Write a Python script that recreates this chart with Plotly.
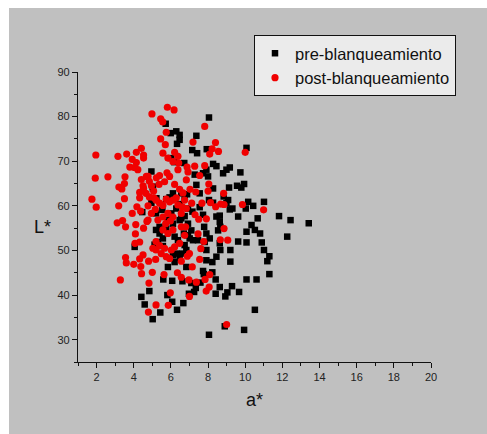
import plotly.graph_objects as go

# pre-blanqueamiento (a*, L*)
pre_a = [8.05, 5.72, 5.99, 6.29, 6.47, 6.47, 6.33, 7.37, 7.15, 7.41, 7.93, 6.02, 6.18, 6.72,
         10.07, 8.27, 8.45, 8.81, 8.99, 9.17, 9.74, 7.28, 7.73, 7.91, 8.0, 9.56, 9.79, 9.94,
         9.13, 8.27, 7.37, 7.55, 6.87, 6.56, 6.11, 5.75, 5.03, 4.95, 5.22, 4.95, 4.46, 4.05,
         4.41, 4.59, 4.84, 5.02, 5.43, 6.07, 6.33, 6.67, 5.81, 5.59, 6.07, 6.62, 6.97, 7.1,
         7.34, 7.25, 7.59, 7.77, 7.73, 8.23, 8.41, 8.63, 8.41, 8.93, 9.04, 9.29, 9.67, 10.07,
         10.61, 10.52, 9.94, 8.9, 8.05, 11.3, 11.19, 11.3, 11.01, 10.89, 10.8, 10.52, 10.34,
         10.07, 10.07, 9.62, 9.62, 10.67, 10.43, 10.16, 10.03, 11.01, 11.82, 12.44, 12.26,
         13.42, 9.2, 9.2, 9.31, 8.99, 8.84, 9.08, 9.17, 8.63, 8.45, 8.63, 8.66, 8.54, 8.63,
         8.66, 8.45, 8.23, 7.91, 8.09, 7.91, 7.82, 7.91, 7.79, 7.73, 7.55, 8.05, 8.27, 7.16,
         6.92, 6.74, 6.56, 6.92, 7.1, 6.92, 7.01, 7.19, 7.46, 6.74, 6.83, 6.61, 6.47, 6.2,
         5.84, 6.83, 6.29, 6.11, 5.57, 5.39, 5.2, 5.39, 5.75, 5.84, 6.11, 6.02, 6.29, 6.47,
         5.54, 5.2, 6.2, 6.38, 6.7, 5.57, 5.3, 5.12, 6.47, 6.74, 5.93, 5.03]
pre_L = [79.8, 78.4, 76.3, 76.7, 75.9, 74.8, 73.9, 75.7, 72.5, 71.8, 72.7, 70.7, 69.8, 69.6,
         73.0, 69.4, 68.9, 67.3, 68.1, 68.6, 67.5, 67.0, 67.3, 68.1, 66.6, 64.5, 64.1, 64.9,
         64.1, 63.9, 64.7, 62.8, 62.6, 62.8, 62.8, 61.5, 64.3, 67.7, 61.7, 60.7, 58.6, 50.8,
         39.6, 37.9, 40.9, 34.6, 36.1, 38.5, 36.7, 38.2, 40.0, 43.5, 43.2, 43.1, 40.3, 42.7,
         41.6, 40.7, 42.8, 44.7, 45.4, 45.1, 43.5, 41.8, 40.3, 39.7, 40.6, 42.0, 40.7, 43.5,
         43.5, 36.7, 32.2, 33.0, 31.1, 44.7, 47.6, 48.7, 50.1, 51.8, 53.8, 54.6, 55.7,
         54.2, 51.8, 52.0, 57.6, 57.2, 60.0, 60.9, 59.4, 60.9, 57.7, 56.8, 53.1,
         56.1, 50.1, 47.5, 59.4, 60.6, 62.1, 61.3, 59.2, 57.8, 57.6, 56.4, 55.3, 54.5, 51.6,
         50.1, 48.6, 47.4, 47.8, 52.7, 53.8, 51.9, 50.1, 55.3, 58.0, 59.7, 61.3, 60.7, 58.7,
         59.4, 57.7, 57.2, 56.0, 54.5, 53.4, 52.7, 52.3, 52.3, 51.2, 50.1, 49.3, 48.2, 47.4,
         46.3, 46.3, 49.3, 48.9, 52.7, 53.8, 54.6, 55.3, 54.9, 56.8, 56.0, 58.3, 59.4, 56.8,
         59.1, 58.3, 53.1, 52.3, 53.8, 51.0, 51.9, 51.3, 60.4, 61.9, 61.9, 63.9]

# post-blanqueamiento (a*, L*)
post_a = [1.96, 1.93, 2.61, 1.75, 1.98, 3.15, 3.62, 3.2, 3.36, 3.53, 3.5, 3.5, 3.19, 3.11,
          3.4, 3.56, 3.56, 3.6, 3.28, 4.0, 4.38, 4.42, 4.82, 4.79, 4.98, 5.2, 5.0, 5.81, 6.17,
          5.45, 5.56, 5.75, 5.45, 5.7, 4.41, 4.14, 4.53, 4.53, 3.92, 4.14, 3.79, 4.04, 4.22,
          5.57, 6.2, 6.38, 6.42, 7.19, 7.82, 8.4, 8.56, 8.09, 8.22, 10.0, 7.28, 7.82, 6.87,
          7.55, 8.04, 8.0, 7.34, 8.84, 7.67, 8.13, 8.41, 8.68, 8.86, 9.85, 10.99, 7.91, 7.5,
          8.86, 8.66, 9.06, 7.77, 7.46, 7.61, 7.55, 7.0, 6.88, 6.56, 6.35, 6.56, 6.97, 7.37,
          7.15, 8.09, 7.84, 8.06, 7.9, 7.0, 5.97, 5.86, 9.0, 5.63, 5.18, 4.8, 4.32, 4.5, 4.07,
          4.32, 4.09, 4.11, 4.53, 4.71, 4.37, 4.17, 3.92, 4.77, 4.32, 4.32, 4.5, 4.41, 4.68,
          4.95, 5.07, 5.09, 5.22, 5.36, 5.66, 5.79, 5.93, 6.2, 6.47, 6.65, 6.29, 6.11, 5.75,
          5.39, 5.16, 4.95, 4.77, 5.3, 5.57, 5.84, 6.11, 5.97, 5.72, 5.57, 5.84, 6.11, 6.56,
          6.79, 6.74, 6.47, 6.2, 6.02, 5.66, 5.39, 5.2, 5.03, 5.2, 5.48, 5.75, 5.93, 6.56,
          6.83, 6.74, 6.61, 6.38, 5.93, 5.57, 5.2, 4.84, 4.66, 4.53, 4.77, 4.84, 5.39, 6.92,
          6.83, 6.38, 5.84, 6.11, 7.03, 7.12, 7.3]
post_L = [71.4, 66.2, 66.5, 61.5, 59.7, 71.1, 71.6, 64.2, 63.8, 66.5, 65.0, 61.6, 60.0, 56.2,
          56.7, 55.3, 48.4, 47.2, 43.4, 46.9, 46.4, 44.8, 42.7, 36.2, 80.6, 37.8, 45.1, 82.1, 81.5,
          79.5, 78.8, 76.5, 75.0, 73.7, 72.9, 72.0, 71.4, 70.7, 70.4, 69.7, 68.7, 68.6, 68.1,
          71.8, 72.0, 71.1, 69.6, 74.3, 77.8, 74.2, 72.2, 71.6, 72.8, 72.0, 68.9, 69.0, 68.7,
          66.8, 64.9, 63.3, 63.1, 62.8, 60.6, 60.7, 59.8, 60.4, 60.3, 60.3, 59.1, 57.1, 57.0,
          54.9, 52.4, 52.3, 52.0, 53.7, 50.4, 48.0, 49.3, 48.7, 47.6, 45.0, 44.0, 43.4, 42.9,
          46.3, 44.6, 43.5, 41.8, 40.9, 39.7, 40.5, 37.7, 33.4, 44.6, 48.0, 47.6, 48.1, 49.0, 51.6,
          51.9, 53.7, 55.8, 55.0, 56.5, 58.8, 59.8, 58.3, 60.0, 61.8, 63.0, 64.5, 65.9, 66.6,
          64.5, 63.3, 61.8, 66.3, 64.8, 65.4, 67.4, 66.6, 64.8, 63.7, 62.9, 61.8, 61.3, 61.5,
          60.6, 59.2, 58.3, 56.8, 56.8, 57.5, 58.3, 57.5, 56.6, 56.0, 54.6, 53.8, 54.6, 55.3,
          55.3, 53.4, 51.6, 50.8, 50.1, 50.5, 51.1, 52.0, 50.5, 50.1, 49.3, 48.6, 48.2, 58.3,
          59.4, 61.3, 59.8, 60.2, 60.9, 60.1, 61.3, 62.0, 62.8, 63.9, 66.6, 65.5, 66.8, 67.6,
          65.8, 68.1, 70.7, 69.9, 63.7, 60.6, 58.0]

x_ticks = [2, 4, 6, 8, 10, 12, 14, 16, 18, 20]
y_ticks = [30, 40, 50, 60, 70, 80, 90]

FONT = "Arial, Liberation Sans, Helvetica, sans-serif"
GRAY = "#c0c0c0"

fig = go.Figure()
fig.add_trace(go.Scatter(x=pre_a, y=pre_L, mode="markers", name="pre-blanqueamiento",
                         marker=dict(symbol="square", size=6.5, color="#000000", line=dict(width=0))))
fig.add_trace(go.Scatter(x=post_a, y=post_L, mode="markers", name="post-blanqueamiento",
                         marker=dict(symbol="circle", size=7.2, color="#f00000", line=dict(width=0))))

W, H = 487, 434
L, R, T, B = 78, 56, 72, 72
pw, ph = W - L - R, H - T - B

def px_x(p):
    return (p - L) / pw

def px_y(p):
    return (H - B - p) / ph

axis_common = dict(showgrid=False, zeroline=False, showline=True, linecolor="#111111", linewidth=1.2,
                   ticks="outside", ticklen=5, tickwidth=1.2, tickcolor="#111111",
                   tickfont=dict(family=FONT, size=11, color="#222222"), mirror=False)

fig.update_layout(
    width=W, height=H,
    margin=dict(l=L, r=R, t=T, b=B),
    paper_bgcolor=GRAY, plot_bgcolor=GRAY,
    font=dict(family=FONT),
    xaxis=dict(range=[1, 20], tickvals=x_ticks, ticktext=[str(v) for v in x_ticks],
               minor=dict(dtick=1, tick0=1, ticks="outside", ticklen=3, tickwidth=1.2, tickcolor="#111111"),
               **axis_common),
    yaxis=dict(range=[25, 90], tickvals=y_ticks, ticktext=[str(v) for v in y_ticks],
               minor=dict(dtick=5, tick0=25, ticks="outside", ticklen=3, tickwidth=1.2, tickcolor="#111111"),
               **axis_common),
    showlegend=True,
    legend=dict(x=px_x(254), y=px_y(35), xanchor="left", yanchor="top",
                bgcolor="#ebebeb", bordercolor="#111111", borderwidth=1,
                font=dict(family=FONT, size=16.5, color="#111111"),
                tracegroupgap=0, itemsizing="trace", entrywidth=180, entrywidthmode="pixels"),
    annotations=[
        dict(text="L*", x=px_x(42), y=px_y(227), xref="paper", yref="paper",
             showarrow=False, font=dict(family=FONT, size=18, color="#111111"),
             xanchor="center", yanchor="middle"),
        dict(text="a*", x=0.5, y=px_y(400), xref="paper", yref="paper",
             showarrow=False, font=dict(family=FONT, size=18, color="#111111"),
             xanchor="center", yanchor="middle"),
    ],
    shapes=[
        dict(type="rect", xref="paper", yref="paper", x0=px_x(-2), x1=px_x(9), y0=px_y(H + 2), y1=px_y(-2),
             fillcolor="white", line=dict(width=0), layer="below"),
        dict(type="rect", xref="paper", yref="paper", x0=px_x(-2), x1=px_x(W + 2), y0=px_y(8), y1=px_y(-2),
             fillcolor="white", line=dict(width=0), layer="below"),
    ],
)

fig.write_html("out.html")
